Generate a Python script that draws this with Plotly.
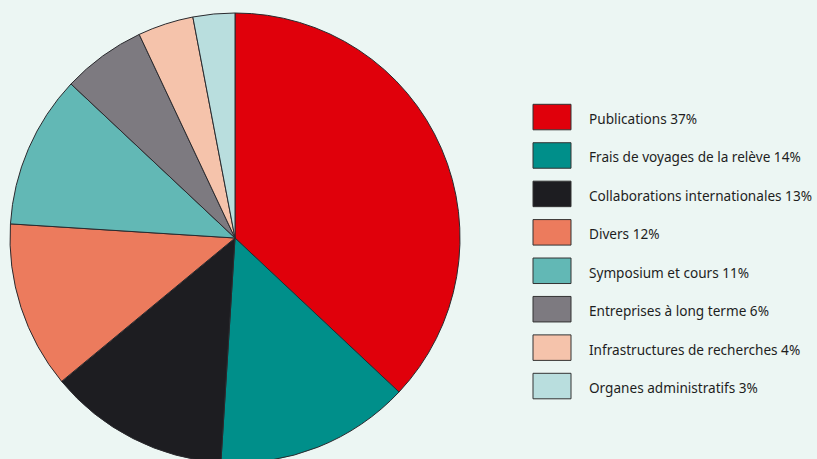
import plotly.graph_objects as go

categories = [
    "Publications",
    "Frais de voyages de la relève",
    "Collaborations internationales",
    "Divers",
    "Symposium et cours",
    "Entreprises à long terme",
    "Infrastructures de recherches",
    "Organes administratifs",
]
values = [37, 14, 13, 12, 11, 6, 4, 3]
colors = ["#E0000B", "#008F8A", "#1D1D21", "#EC7B5D",
          "#62B8B5", "#7D7A80", "#F5C3AB", "#B9DEDE"]

W, H = 817, 464  # figure slightly taller than window so the pie is cropped at the bottom
BG = "#ECF6F3"

cx, cy, r = 235, 238, 225
fig = go.Figure(go.Pie(
    labels=categories,
    values=values,
    sort=False,
    direction="clockwise",
    rotation=0,
    marker=dict(colors=colors, line=dict(color="#2A2A2E", width=1)),
    textinfo="none",
    hoverinfo="label+percent",
    showlegend=False,
    domain=dict(x=[(cx - r) / W, (cx + r) / W], y=[1 - (cy + r) / H, 1 - (cy - r) / H]),
))

# custom legend (swatch + label) laid out in paper pixels
x0, x1 = 533, 571
top0, step, sh = 104.3, 38.43, 25.5
shapes, annotations = [], []
for i, (c, v, col) in enumerate(zip(categories, values, colors)):
    t = top0 + i * step
    shapes.append(dict(type="rect", xref="paper", yref="paper",
                       x0=x0 / W, x1=x1 / W, y0=1 - (t + sh) / H, y1=1 - t / H,
                       fillcolor=col, line=dict(color="#333333", width=1)))
    annotations.append(dict(text=f"{c} {v}%", xref="paper", yref="paper",
                            x=587 / W, y=1 - (t + sh / 2 + 1.5) / H,
                            xanchor="left", yanchor="middle", showarrow=False,
                            font=dict(family="Noto Sans", size=13.6, color="#1E1E1E")))

fig.update_layout(
    width=W, height=H,
    margin=dict(l=0, r=0, t=0, b=0),
    paper_bgcolor=BG, plot_bgcolor=BG,
    shapes=shapes, annotations=annotations,
)
fig.write_html(
    "out.html",
    config={"displayModeBar": False},
    post_script=(
        "document.body.style.margin='0';"
        "document.body.style.overflow='hidden';"
        "document.documentElement.style.overflow='hidden';"
        f"document.body.style.background='{BG}';"
    ),
)
